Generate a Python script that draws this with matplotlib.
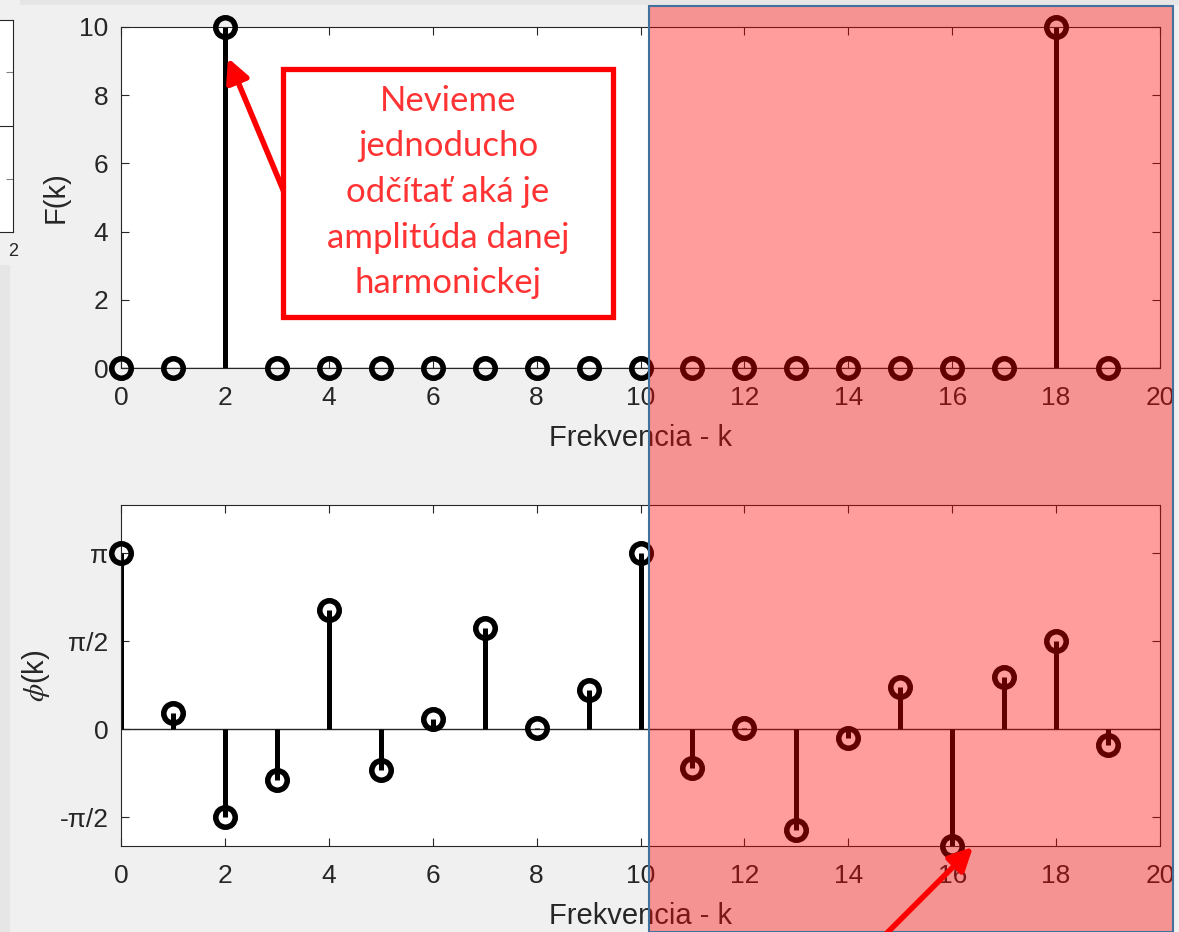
import numpy as np
import matplotlib.pyplot as plt
from matplotlib.patches import Rectangle, FancyArrowPatch
from matplotlib.transforms import IdentityTransform

plt.rcParams['font.family'] = ['Liberation Sans', 'DejaVu Sans']
plt.rcParams['mathtext.fontset'] = 'stix'

# data
k = np.arange(20)
amplitude = [0, 0, 10, 0, 0, 0, 0, 0, 0, 0, 0, 0, 0, 0, 0, 0, 0, 0, 10, 0]
phase = [np.pi, 0.30, -1.57, -0.90, 2.12, -0.73, 0.18, 1.81, 0.02, 0.71,
         np.pi, -0.69, 0.02, -1.80, -0.15, 0.75, -2.08, 0.94, 1.58, -0.28]
x_ticks = list(range(0, 21, 2))
amp_ticks = [0, 2, 4, 6, 8, 10]
phase_ticks = [-np.pi / 2, 0, np.pi / 2, np.pi]
phase_labels = ['-π/2', '0', 'π/2', 'π']
note = "Nevieme\njednoducho\nodčítať aká je\namplitúda danej\nharmonickej"

W, H = 1179, 932
fig = plt.figure(figsize=(W / 100, H / 100), dpi=100, facecolor='#f0f0f0')


def box(x0, y0, x1, y1):
    # pixel box (top-left origin) -> figure fraction rect
    return [x0 / W, 1 - y1 / H, (x1 - x0) / W, (y1 - y0) / H]


def px(x, y):
    return (x, H - y)


TXT = '#262626'


def stem_plot(ax, y):
    markers, stems, base = ax.stem(k, y, linefmt='k-', markerfmt='ko', basefmt=' ')
    plt.setp(stems, linewidth=3.6)
    plt.setp(markers, markersize=14, markerfacecolor='none',
             markeredgewidth=4, clip_on=False, zorder=4)
    ax.axhline(0, color=TXT, linewidth=1, zorder=1)
    ax.set_xlim(0, 20)
    ax.set_xticks(x_ticks)
    ax.tick_params(direction='in', length=6, width=0.8, top=True, right=True,
                   labelsize=19, colors=TXT)
    ax.tick_params(axis='x', pad=13)
    ax.tick_params(axis='y', pad=9)
    for s in ax.spines.values():
        s.set_color(TXT)
        s.set_linewidth(0.8)
    ax.set_xlabel('Frekvencia - k', fontsize=21, color=TXT)
    ax.xaxis.set_label_coords(0.5, -0.165)


# window decoration bits at the left / top edge
fig.patches.append(Rectangle((0, 0), 10 / W, 1 - 265 / H, transform=fig.transFigure,
                             facecolor='#e6e6e6', edgecolor='none', zorder=-5))
fig.patches.append(Rectangle((20 / W, 1 - 5 / H), 1, 5 / H, transform=fig.transFigure,
                             facecolor='#e6e6e6', edgecolor='none', zorder=-5))
side = fig.add_axes(box(0, 20, 13, 232))
side.set_xlim(0, 1)
side.set_ylim(0, 1)
side.set_xticks([])
side.set_yticks([0.25, 0.755])
side.set_yticklabels([])
side.yaxis.tick_right()
side.tick_params(direction='in', length=5, width=0.8, colors='#808080')
side.axhline(0.5, color=TXT, linewidth=0.8)
side.spines['left'].set_visible(False)
for s in ['right', 'top', 'bottom']:
    side.spines[s].set_color(TXT)
    side.spines[s].set_linewidth(0.8)
fig.text(13 / W, 1 - 252 / H, '2', fontsize=13, color=TXT, va='center', ha='center')

# top: amplitude spectrum
ax1 = fig.add_axes(box(121, 27, 1160, 368))
stem_plot(ax1, amplitude)
ax1.set_ylim(0, 10)
ax1.set_yticks(amp_ticks)
ax1.set_ylabel('F(k)', fontsize=21, color=TXT)
ax1.yaxis.set_label_coords(-0.049, 0.5)

# bottom: phase spectrum
ax2 = fig.add_axes(box(121, 505, 1160, 846))
stem_plot(ax2, phase)
ax2.set_ylim(-2.08, 4.0)
ax2.set_yticks(phase_ticks)
ax2.set_yticklabels(phase_labels)
ax2.set_ylabel(r'$\phi$(k)', fontsize=21, color=TXT)
ax2.yaxis.set_label_coords(-0.066, 0.5)

# callout box with arrow
fig.patches.append(Rectangle((283 / W, 1 - 317 / H), 330 / W, 248 / H,
                             transform=fig.transFigure, facecolor='white',
                             edgecolor='red', linewidth=3.8, zorder=5))
fig.text(448 / W, 1 - 192 / H, note, color='#ff3333', fontsize=25,
         family='Lato', ha='center', va='center', linespacing=1.52, zorder=6)
ax1.annotate('', xy=px(228, 58), xycoords='figure pixels',
             xytext=px(284, 192), textcoords='figure pixels',
             arrowprops=dict(arrowstyle='-|>,head_length=0.7,head_width=0.35',
                             color='red', lw=4, mutation_scale=20,
                             shrinkA=0, shrinkB=0), annotation_clip=False, zorder=6)

# translucent highlight over the upper half of the spectrum
fig.patches.append(Rectangle((649 / W, 0), (1173 - 649) / W, 1 - 6 / H,
                             transform=fig.transFigure, facecolor=(1, 0, 0, 0.39),
                             edgecolor='#41719c', linewidth=1.5, zorder=10))

arrow2 = FancyArrowPatch(px(868, 952), px(973, 847),
                         arrowstyle='-|>,head_length=0.7,head_width=0.35',
                         color='red', lw=4, mutation_scale=20,
                         shrinkA=0, shrinkB=0, zorder=11)
arrow2.set_transform(IdentityTransform())
fig.add_artist(arrow2)

fig.savefig('out.png', dpi=100, facecolor=fig.get_facecolor())
